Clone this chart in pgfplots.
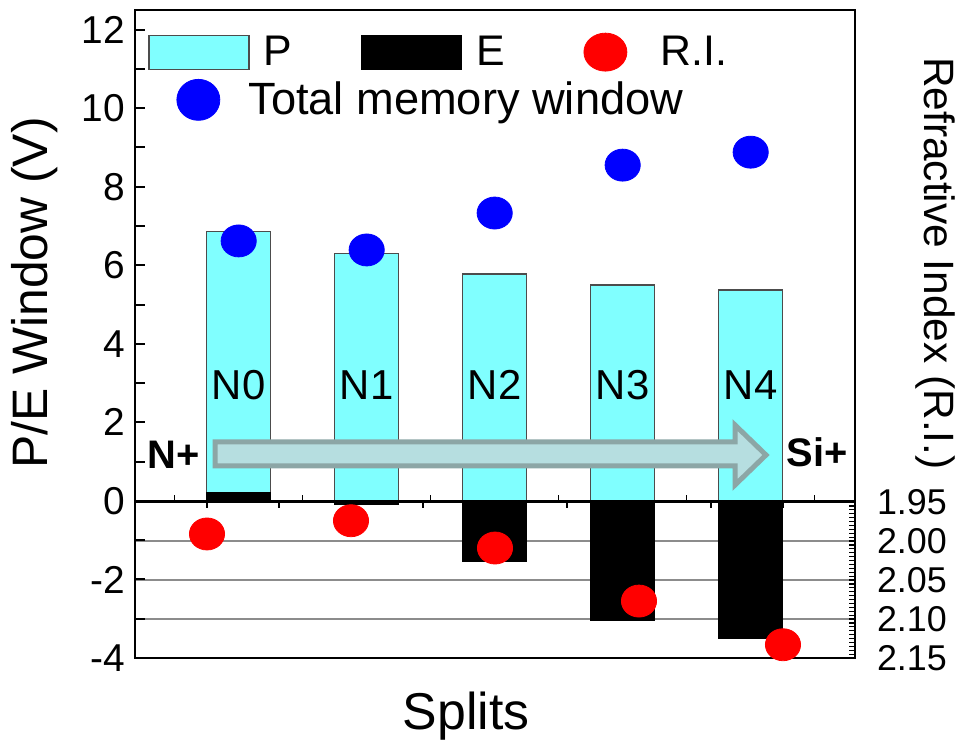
\documentclass[border=0pt]{standalone}
\usepackage{pgfplots}
\pgfplotsset{compat=1.18}
\usepackage{fontspec}
\setmainfont{Liberation Sans}
\definecolor{cyanP}{HTML}{80FFFF}
\definecolor{arrfill}{HTML}{B6DEE0}
\definecolor{arrdraw}{HTML}{8CA6A6}
\definecolor{gridgray}{HTML}{8C8C8C}
\begin{document}
\begin{tikzpicture}
\path[use as bounding box] (-67.5bp,-41.5bp) rectangle (419bp,329bp);
% lower grid (under bars)
\begin{axis}[at={(0,0)},anchor=south west,scale only axis,width=360bp,height=78bp,
  xmin=0.5,xmax=5.5,ymin=1.95,ymax=2.15,y dir=reverse,
  axis line style={draw=none},xtick=\empty,ytick={2.00,2.05,2.10},yticklabels={},
  major tick length=0pt,ymajorgrids,grid style={gridgray,line width=0.8bp}]
\end{axis}
% main axis
\begin{axis}[at={(0,0)},anchor=south west,scale only axis,width=360bp,height=324bp,
  xmin=0.19,xmax=5.815,ymin=-4,ymax=12.5,clip=false,
  xtick=\empty,ytick={-4,-2,...,12},minor ytick={-3,-1,...,11},
  ytick pos=left,tick align=inside,major tick length=5bp,minor tick length=5bp,
  axis line style={line width=1.2bp},tick style={line width=1bp,black},
  /pgf/number format/assume math mode=true,
  yticklabel style={font=\fontsize{19.5}{19.5}\selectfont,xshift=-1.5bp},
  legend columns=3,
  legend style={draw=none,fill=none,at={(0.018,0.935)},anchor=west,inner sep=0pt,
    font=\fontsize{21.5}{26}\selectfont,nodes={inner sep=0pt},
    /tikz/every odd column/.append style={column sep=7bp},
    /tikz/every even column/.append style={column sep=34.5bp}}]
\addplot[ybar,bar width=0.5,bar shift=0pt,fill=cyanP,draw=black!70,line width=0.6bp,
  legend image code/.code={\draw[fill=cyanP,draw=black!70,line width=0.6bp] (0bp,-8.5bp) rectangle (50bp,8.5bp);}]
  coordinates {(1,6.85)(2,6.29)(3,5.78)(4,5.50)(5,5.37)};
\addlegendentry{P}
\addplot[ybar,bar width=0.5,bar shift=0pt,fill=black,draw=black,line width=0.6bp,
  legend image code/.code={\fill[black] (0bp,-8.5bp) rectangle (50bp,8.5bp);}]
  coordinates {(1,0.2)(2,-0.1)(3,-1.55)(4,-3.05)(5,-3.49)};
\addlegendentry{E}
\addlegendimage{legend image code/.code={\path[draw=none,fill=none] (0bp,0bp)--(36.5bp,0bp);\fill[red] (15.75bp,0bp) ellipse[x radius=10.75bp,y radius=9.5bp];}}
\addlegendentry{R.I.}
\addplot[only marks,mark=*,blue,mark size=8bp,mark options={xscale=1.1},forget plot]
  coordinates {(1,6.62)(2,6.39)(3,7.33)(4,8.55)(5,8.88)};
\node[font=\fontsize{21}{21}\selectfont] at (axis cs:1,2.95) {N0};
\node[font=\fontsize{21}{21}\selectfont] at (axis cs:2,2.95) {N1};
\node[font=\fontsize{21}{21}\selectfont] at (axis cs:3,2.95) {N2};
\node[font=\fontsize{21}{21}\selectfont] at (axis cs:4,2.95) {N3};
\node[font=\fontsize{21}{21}\selectfont] at (axis cs:5,2.95) {N4};
\end{axis}
% lower axis with R.I.
\begin{axis}[at={(0,0)},anchor=south west,scale only axis,width=360bp,height=78bp,
  xmin=0.5,xmax=5.5,ymin=1.95,ymax=2.15,y dir=reverse,clip=false,
  axis line style={line width=1.2bp},
  xtick={1,...,5},minor xtick={1.5,2.5,3.5,4.5},xtick pos=top,xticklabels={},
  ytick={1.95,2.00,...,2.15},ytick pos=right,yticklabel pos=right,minor y tick num=9,
  tick align=inside,major tick length=3bp,minor tick length=3bp,
  tick style={line width=0.6bp,black},
  /pgf/number format/assume math mode=true,
  yticklabel style={font=\fontsize{18}{18}\selectfont,xshift=7.5bp,
    /pgf/number format/.cd,fixed,fixed zerofill,precision=2}]
\addplot[only marks,mark=*,red,mark size=8bp,mark options={xscale=1.1}]
  coordinates {(1,1.991)(2,1.974)(3,2.009)(4,2.077)(5,2.133)};
\end{axis}
% upper box with zero line
\begin{axis}[at={(0,78.5bp)},anchor=south west,scale only axis,width=360bp,height=245.5bp,
  xmin=0.19,xmax=5.815,ymin=0,ymax=12.5,
  xtick={0.5,1.5,...,5.5},xtick pos=bottom,xticklabels={},ytick=\empty,
  tick align=inside,major tick length=3bp,tick style={line width=0.8bp,black},
  axis line style={line width=1.2bp},
  legend style={draw=none,fill=none,at={(0.018,0.817)},anchor=west,inner sep=0pt,
    font=\fontsize{22.7}{27}\selectfont,nodes={inner sep=0pt},
    /tikz/every odd column/.append style={column sep=0bp}}]
\addlegendimage{legend image code/.code={\path[draw=none,fill=none] (0bp,0bp)--(50bp,0bp);\fill[blue] (25bp,0bp) ellipse[x radius=10.75bp,y radius=10.25bp];}}
\addlegendentry{Total memory window}
\end{axis}
% arrow annotation
\draw[line width=2.5bp,draw=arrdraw,fill=arrfill,line join=miter]
  (40bp,108bp) -- (300bp,108bp) -- (300bp,116.5bp) -- (315.5bp,101.5bp)
  -- (300bp,86.5bp) -- (300bp,96bp) -- (40bp,96bp) -- cycle;
\node[font=\fontsize{20}{20}\selectfont\bfseries] at (19.5bp,101.5bp) {N+};
\node[font=\fontsize{20}{20}\selectfont\bfseries] at (341bp,103bp) {Si+};
% axis labels
\node[rotate=90,font=\fontsize{25}{25}\selectfont] at (-50bp,182.5bp) {P/E Window (V)};
\node[rotate=-90,font=\fontsize{21.3}{21.3}\selectfont] at (400bp,197.3bp) {Refractive Index (R.I.)};
\node[font=\fontsize{26}{26}\selectfont] at (165.5bp,-29bp) {Splits};
\end{tikzpicture}
\end{document}
